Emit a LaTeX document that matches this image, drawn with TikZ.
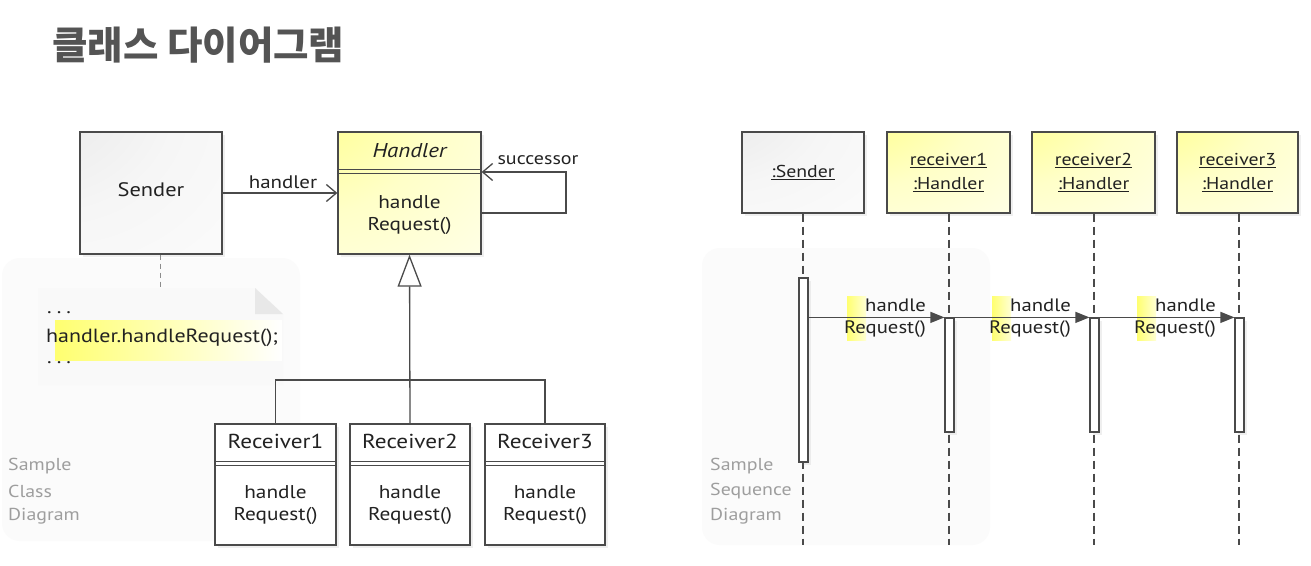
\documentclass[tikz,border=0pt]{standalone}
\usepackage{fontspec}
\setmainfont{PT Sans}[FakeStretch=1.15]
\newfontfamily\krfont{Noto Sans CJK KR}
\usetikzlibrary{arrows.meta,shadows,calc}
\definecolor{ln}{HTML}{4A4A4A}
\definecolor{txt}{HTML}{222222}
\definecolor{yel}{HTML}{FFFF70}
\definecolor{ymid}{HTML}{FFFFC8}
\definecolor{gtop}{HTML}{E4E4E4}
\definecolor{gmid}{HTML}{F6F6F6}
\pgfdeclareradialshading{ycorner}{\pgfpoint{-50bp}{50bp}}{color(0bp)=(yel); color(45bp)=(ymid); color(100bp)=(white); color(160bp)=(white)}
\pgfdeclareradialshading{gcorner}{\pgfpoint{-50bp}{50bp}}{color(0bp)=(gtop); color(45bp)=(gmid); color(100bp)=(white); color(160bp)=(white)}
\begin{document}
\begin{tikzpicture}[x=1pt,y=-1pt,
  font=\fontsize{18.5}{22}\selectfont,
  every node/.style={text=txt},
  line/.style={draw=ln, line width=1.3pt},
  shad/.style={drop shadow={opacity=0.12,shadow xshift=3pt,shadow yshift=-3pt}},
  box/.style={rectangle, draw=ln, line width=1.3pt, inner sep=0pt, shad},
  graybox/.style={box, shade, shading=gcorner},
  yelbox/.style={box, shade, shading=ycorner},
  whitebox/.style={box, fill=white},
  samp/.style={text=black!38, font=\fontsize{17.3}{22}\selectfont, anchor=west, inner sep=0pt},
  act/.style={rectangle, draw=ln, line width=1.2pt, fill=white, minimum width=9pt, inner sep=0pt, shad},
  life/.style={draw=ln, line width=1.2pt, dash pattern=on 8pt off 5pt},
  dline/.style={draw=ln, line width=1pt},
  seqtxt/.style={font=\fontsize{17.2}{24}\selectfont, align=center},
  msg/.style={anchor=east, inner sep=0pt, font=\fontsize{18}{22}\selectfont},
]
\useasboundingbox (0,0) rectangle (1311,565);
\fill[white] (0,0) rectangle (1311,565);
% faint panels
\fill[black!1.5, rounded corners=18pt] (2,258) rectangle (300,541);
\fill[black!1.5, rounded corners=18pt] (702,248) rectangle (990,545);

% title
\node[anchor=west, inner sep=0pt, font=\krfont\bfseries\fontsize{38.5}{40}\selectfont, text=black!67] (title) at (52,45) {클래스 다이어그램};

% ---------- class diagram ----------
\node[graybox, minimum width=142pt, minimum height=122pt] (sender) at (151,193) {};
\node[font=\fontsize{19.5}{24}\selectfont] (sendertxt) at (151,190) {Sender};
\node[yelbox, minimum width=143pt, minimum height=122pt] (handler) at (409.5,193) {};
\node[font=\itshape\fontsize{20}{24}\selectfont] (hname) at (409.5,151) {Handler};
\draw[dline] (handler.west |- 0,169) -- (handler.east |- 0,169);
\draw[dline] (handler.west |- 0,173) -- (handler.east |- 0,173);
\node[align=center] (hop) at (409.5,215) {handle\\Request()};

% association
\draw[line, -{Straight Barb[length=10pt,width=17pt]}] (sender.east |- handler) -- (handler);
\node[font=\fontsize{18.2}{22}\selectfont] (assoc) at (283,182) {handler};

% self association
\coordinate (sl1) at (566,213);
\coordinate (sl2) at (566,172);
\draw[line, -{Straight Barb[length=10pt,width=17pt]}] (handler.east |- sl1) -- (sl1) -- (sl2) -- (handler.east |- sl2);
\node[font=\fontsize{17.4}{22}\selectfont] (succ) at (538,160) {successor};

% note
\fill[black!2.5] (38,288) -- (255,288) -- (283,314) -- (283,385) -- (38,385) -- cycle;
\fill[black!9] (255,288) -- (255,314) -- (283,314) -- cycle;
\node[inner sep=0pt, minimum width=245pt, minimum height=97pt] (note) at (160.5,336.5) {};
\shade[left color=yel, right color=white] (55,320) rectangle (282,360);
\node[anchor=base west, inner sep=0pt] (dots1) at (47,313) {.\hspace{5pt}.\hspace{5pt}.};
\node[anchor=base west, inner sep=0pt, font=\fontsize{19.1}{24}\selectfont] (code) at (46,342) {handler.handleRequest();};
\node[anchor=base west, inner sep=0pt] (dots2) at (47,363) {.\hspace{5pt}.\hspace{5pt}.};
\draw[draw=black!45, line width=1.2pt, dash pattern=on 5pt off 4pt] (sender.south -| note.north) -- (note.north);

% receivers
\node[whitebox, minimum width=121pt, minimum height=121pt] (r1) at (275.5,484.5) {};
\node[whitebox, minimum width=120pt, minimum height=121pt] (r2) at (410,484.5) {};
\node[whitebox, minimum width=120pt, minimum height=121pt] (r3) at (545,484.5) {};
\foreach \r/\n in {r1/1,r2/2,r3/3}{
  \node[font=\fontsize{20.2}{24}\selectfont] (\r name) at (\r |- 0,441) {Receiver\n};
  \draw[dline] (\r.west |- 0,461) -- (\r.east |- 0,461);
  \draw[dline] (\r.west |- 0,465) -- (\r.east |- 0,465);
  \node[align=center] (\r op) at (\r |- 0,505) {handle\\Request()};
}
% generalization
\coordinate (bar) at (410,380);
\draw[line] (r1.north) |- (bar) -| (r3.north);
\draw[line, -{Triangle[open, length=32pt, width=24pt, fill=white]}] (r2.north) -- (handler.south);

\node[samp] (s1) at (8,466) {Sample};
\node[samp] (s2) at (8,491) {Class};
\node[samp] (s3) at (8,516) {Diagram};

% ---------- sequence diagram ----------
\node[graybox, minimum width=122pt, minimum height=81pt, seqtxt] (ssend) at (803,172.5) {\underline{:Sender}};
\node[yelbox, minimum width=123pt, minimum height=81pt, seqtxt] (sr1) at (948.5,172.5) {\underline{receiver1}\\\underline{:Handler}};
\node[yelbox, minimum width=123pt, minimum height=81pt, seqtxt] (sr2) at (1093.5,172.5) {\underline{receiver2}\\\underline{:Handler}};
\node[yelbox, minimum width=121pt, minimum height=81pt, seqtxt] (sr3) at (1237.5,172.5) {\underline{receiver3}\\\underline{:Handler}};

\coordinate (e0) at (803,545);
\coordinate (e1) at (949,545);
\coordinate (e2) at (1094,545);
\coordinate (e3) at (1239,545);
\draw[life] (ssend.south -| e0) -- (e0);
\draw[life] (sr1.south -| e1) -- (e1);
\draw[life] (sr2.south -| e2) -- (e2);
\draw[life] (sr3.south -| e3) -- (e3);

\node[act, minimum height=184pt] (a0) at (803.5,370) {};
\node[act, minimum height=114pt] (a1) at (949.5,375) {};
\node[act, minimum height=114pt] (a2) at (1094.5,375) {};
\node[act, minimum height=114pt] (a3) at (1239.5,375) {};

\foreach \s/\t/\dx in {a0/a1/0, a1/a2/145, a2/a3/290}{
  \shade[left color=yel, right color=yel!30!white] (847+\dx,296) rectangle (866+\dx,340);
  \draw[line, -{Triangle[length=14pt, width=11pt]}] (\s.east |- \t.north) -- (\t.north west);
  \node[msg] (h\t) at (926+\dx,305) {handle};
  \node[msg] (q\t) at (926+\dx,329) {Request()};
}

\node[samp] (t1) at (710,466) {Sample};
\node[samp] (t2) at (710,491) {Sequence};
\node[samp] (t3) at (710,516) {Diagram};
\end{tikzpicture}
\end{document}
